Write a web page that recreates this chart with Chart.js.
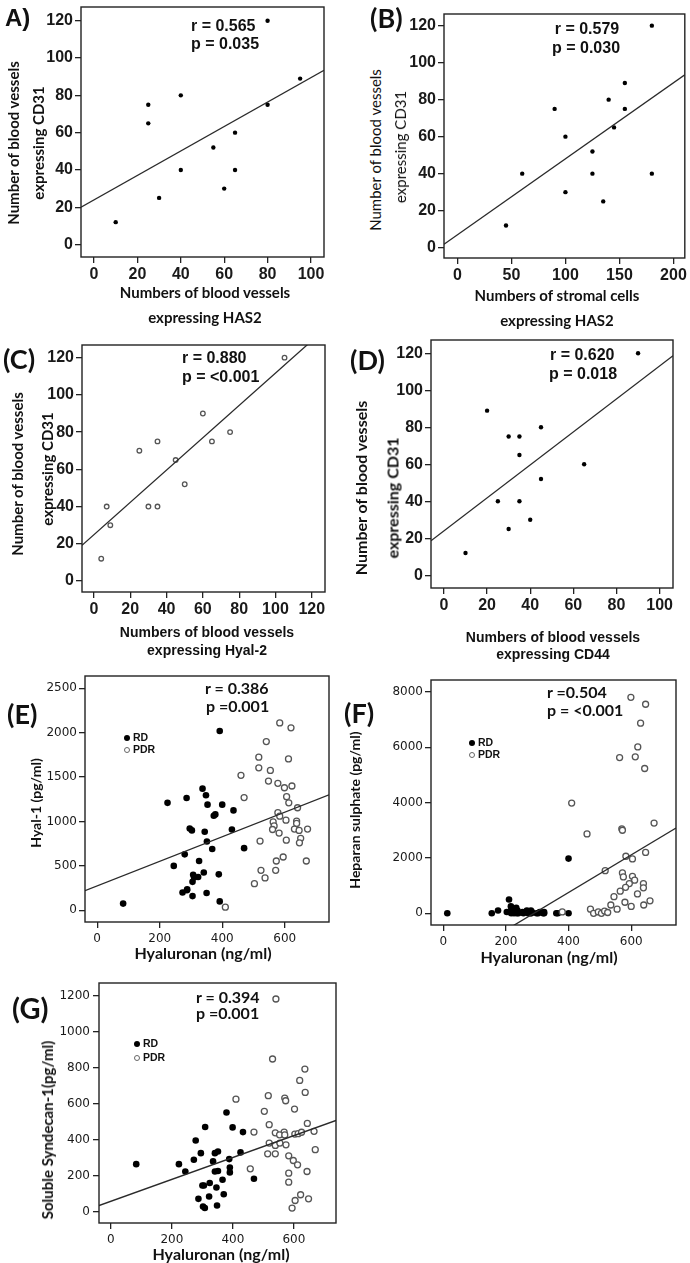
<!DOCTYPE html>
<html>
<head>
<meta charset="utf-8">
<script src="https://cdn.jsdelivr.net/npm/chart.js@4.4.1/dist/chart.umd.min.js"></script>
<style>
body { margin: 0; background: #fff; }
#fig { position: relative; width: 690px; height: 1263px; overflow: hidden; }
canvas { position: absolute; }
.t { position: absolute; white-space: nowrap; line-height: 1; color: #111; }
.dot { display: inline-block; width: 6px; height: 6px; border-radius: 50%; box-sizing: border-box; vertical-align: middle; margin-right: 3px; }
</style>
</head>
<body>
<div id="fig"></div>
<script>
// ---- data ----
// (A) blood vessels HAS2 vs CD31
const has2VesselsA = [10, 25, 25, 30, 40, 40, 55, 60, 65, 65, 80, 80, 95];
const cd31A = [12, 75, 65, 25, 80, 40, 52, 30, 60, 40, 120, 75, 89];
const fitA = [23.9, 0.656]; // intercept, slope

// (B) stromal cells HAS2 vs CD31
const has2StromalB = [45, 60, 90, 100, 100, 125, 125, 135, 140, 145, 155, 155, 180, 180];
const cd31B = [12, 40, 75, 60, 30, 52, 40, 25, 80, 65, 89, 75, 120, 40];
const fitB = [6.9, 0.411];

// (C) Hyal-2 vs CD31
const hyal2C = [4, 7, 9, 25, 30, 35, 35, 45, 50, 60, 65, 75, 105];
const cd31C = [12, 40, 30, 70, 40, 40, 75, 65, 52, 90, 75, 80, 120];
const fitC = [24.9, 0.868];

// (D) CD44 vs CD31
const cd44D = [10, 20, 25, 30, 30, 35, 35, 35, 40, 45, 45, 65, 90];
const cd31D = [12, 89, 40, 75, 25, 75, 65, 40, 30, 80, 52, 60, 120];
const fitD = [24.0, 0.892];

// (E) hyaluronan vs Hyal-1
const haRdE = [392, 225, 286, 337, 348, 353, 400, 436, 373, 378, 296, 303, 344, 431, 351, 368, 470, 280, 245, 326, 341, 389, 307, 310, 323, 305, 288, 83, 273, 287, 305, 350, 392];
const hyal1RdE = [2020, 1210, 1265, 1370, 1295, 1190, 1190, 1125, 1065, 1080, 920, 900, 885, 910, 775, 690, 700, 630, 500, 555, 425, 405, 400, 370, 375, 320, 235, 75, 200, 225, 160, 195, 100];
const haPdrE = [584, 620, 541, 517, 612, 517, 554, 460, 548, 578, 599, 623, 470, 606, 613, 641, 578, 584, 604, 563, 566, 561, 638, 638, 631, 646, 673, 582, 605, 651, 647, 521, 595, 573, 669, 524, 571, 537, 503, 410];
const hyal1PdrE = [2110, 2055, 1900, 1725, 1705, 1605, 1575, 1520, 1455, 1430, 1380, 1400, 1270, 1280, 1210, 1155, 1100, 1060, 1015, 995, 950, 910, 1005, 978, 915, 900, 915, 870, 790, 810, 760, 780, 600, 555, 555, 450, 450, 365, 300, 35];
const fitE = [275, 1.384];

// (F) hyaluronan vs heparan sulphate
const haRdF = [13, 155, 175, 203, 210, 216, 217, 218, 226, 233, 235, 235, 237, 240, 253, 256, 267, 271, 274, 278, 280, 281, 283, 298, 303, 308, 319, 322, 322, 400, 361, 366, 400];
const hsRdF = [0, 0, 100, 50, 500, 250, 0, 150, 0, 200, 50, 0, 100, 0, 50, 0, 100, 0, 50, 0, 100, 0, 50, 0, 0, 50, 0, 0, 50, 1975, 0, 0, 0];
const haPdrF = [599, 646, 630, 621, 563, 613, 643, 410, 673, 459, 570, 572, 517, 583, 604, 646, 572, 575, 604, 611, 594, 582, 639, 639, 380, 470, 480, 495, 505, 515, 525, 535, 545, 555, 565, 580, 600, 620, 640, 660];
const hsPdrF = [7800, 7550, 6865, 6010, 5625, 5650, 5230, 3980, 3260, 2865, 3050, 3000, 1540, 2060, 1965, 2200, 1460, 1315, 1335, 1195, 1075, 940, 1075, 920, 50, 150, 0, 50, 0, 80, 30, 300, 600, 150, 800, 400, 250, 700, 300, 450];
const fitF = [-1964, 6.79];

// (G) hyaluronan vs soluble syndecan-1
const haRdG = [83, 223, 244, 272, 278, 295, 309, 287, 300, 305, 302, 308, 324, 322, 335, 341, 351, 341, 351, 346, 348, 366, 370, 379, 388, 390, 390, 399, 425, 433, 469];
const sdcRdG = [263, 263, 222, 287, 394, 324, 469, 70, 144, 144, 28, 19, 158, 83, 278, 324, 333, 222, 225, 133, 33, 176, 96, 550, 291, 244, 217, 467, 328, 441, 182];
const haPdrG = [541, 530, 636, 619, 637, 410, 516, 570, 573, 602, 503, 519, 644, 469, 539, 568, 553, 570, 603, 614, 625, 666, 519, 539, 554, 514, 539, 574, 670, 583, 598, 612, 457, 583, 643, 583, 622, 648, 604, 594];
const sdcPdrG = [1180, 847, 791, 728, 661, 624, 643, 630, 615, 569, 556, 482, 489, 441, 437, 441, 426, 425, 430, 432, 440, 445, 380, 367, 380, 320, 320, 370, 343, 309, 283, 259, 237, 213, 222, 163, 93, 70, 61, 19];
const fitG = [56.7, 0.608];

// tick labels
const ticks0to100 = [0, 20, 40, 60, 80, 100];
const ticks0to120 = [0, 20, 40, 60, 80, 100, 120];
const ticksStromal = [0, 50, 100, 150, 200];
const ticksHa = [0, 200, 400, 600];
const ticksHyal1 = [0, 500, 1000, 1500, 2000, 2500];
const ticksHs = [0, 2000, 4000, 6000, 8000];
const ticksSdc = [0, 200, 400, 600, 800, 1000, 1200];

const fig = document.getElementById('fig');
const ARI = '"Liberation Sans", Arial, sans-serif';
const CAL = 'Lato, "Noto Sans", sans-serif';
const DJV = '"DejaVu Sans", sans-serif';

// frame around the plot area
const boxPlugin = {
    id: 'box',
    afterDatasetsDraw(c) {
        const { ctx, chartArea: a } = c;
        ctx.save();
        ctx.strokeStyle = '#222';
        ctx.lineWidth = 1.4;
        ctx.strokeRect(a.left, a.top, a.right - a.left, a.bottom - a.top);
        ctx.restore();
    },
};

const filled = (x, y, r) => ({ x, y, r, fill: '#000', stroke: '#000', bw: 0 });
const hollow = (x, y, r) => ({ x, y, r, fill: '#fff', stroke: '#555', bw: 1.3 });

function panel(o) {
    const W = o.box[2] - o.box[0], H = o.box[3] - o.box[1];
    const yw = 60, xh = 40, pt = 12, pr = o.pr ?? 12;
    const cv = document.createElement('canvas');
    cv.width = yw + W + pr;
    cv.height = pt + H + xh;
    cv.style.left = (o.box[0] - yw) + 'px';
    cv.style.top = (o.box[1] - pt) + 'px';
    fig.appendChild(cv);

    const sets = o.series.map(s => ({
        data: s.x.map((v, i) => ({ x: v, y: s.y[i] })),
        pointRadius: s.r,
        backgroundColor: s.fill,
        borderColor: s.stroke,
        borderWidth: s.bw,
    }));
    const [b, m] = o.fit;
    sets.unshift({
        data: [{ x: o.xr[0], y: b + m * o.xr[0] }, { x: o.xr[1], y: b + m * o.xr[1] }],
        showLine: true,
        pointRadius: 0,
        borderColor: '#2a2a2a',
        borderWidth: 1.3,
    });

    const axis = (r, tk, pad, fit) => ({
        type: 'linear',
        min: r[0],
        max: r[1],
        afterBuildTicks: s => { s.ticks = tk.map(v => ({ value: v })); },
        afterFit: fit,
        grid: { drawOnChartArea: false, tickLength: 6, color: '#222', lineWidth: 1.3 },
        border: { display: false },
        ticks: { autoSkip: false, maxRotation: 0, minRotation: 0, padding: pad, color: '#1a1a1a', font: o.font, callback: v => String(v) },
    });

    new Chart(cv, {
        type: 'scatter',
        data: { datasets: sets },
        options: {
            responsive: false,
            animation: false,
            events: [],
            layout: { padding: { left: 0, top: pt, right: pr, bottom: 0 } },
            plugins: { legend: { display: false }, tooltip: { enabled: false } },
            scales: {
                x: axis(o.xr, o.xt, o.xpad, s => { s.height = xh; }),
                y: axis(o.yr, o.yt, o.ypad, s => { s.width = yw; }),
            },
        },
        plugins: [boxPlugin],
    });
}

function txt(s, x, y, font, opt = {}) {
    const d = document.createElement('div');
    d.className = 't';
    d.textContent = s;
    d.style.font = font;
    d.style.left = x + 'px';
    d.style.top = y + 'px';
    let tr = opt.left ? 'translate(0,-50%)' : 'translate(-50%,-50%)';
    if (opt.rot) tr += ' rotate(-90deg)';
    d.style.transform = tr;
    fig.appendChild(d);
}

function legend(x, y1, y2) {
    const row = (label, y, style) => {
        const d = document.createElement('div');
        d.className = 't';
        d.style.font = `bold 10.5px ${ARI}`;
        d.style.left = (x - 3) + 'px';
        d.style.top = y + 'px';
        d.style.transform = 'translate(0,-50%)';
        d.innerHTML = `<span class="dot" style="${style}"></span>${label}`;
        fig.appendChild(d);
    };
    row('RD', y1, 'background:#000');
    row('PDR', y2, 'border:1px solid #666;background:#fff');
}

const bigFont = { family: ARI, size: 16, weight: 'bold' };
const smallFont = { family: DJV, size: 12 };

// A
panel({ box: [81, 7, 324, 257], xr: [-6, 106], yr: [-6.7, 127.4], xt: ticks0to100, yt: ticks0to120,
    font: bigFont, xpad: 2, ypad: 2, fit: fitA, series: [filled(has2VesselsA, cd31A, 2.2)] });
txt('A)', 5, 18, `bold 24px ${ARI}`, { left: true });
txt('r = 0.565', 191, 26, `bold 16px ${ARI}`, { left: true });
txt('p = 0.035', 191, 44, `bold 16px ${ARI}`, { left: true });
txt('Number of blood vessels', 13, 143, `bold 15px ${CAL}`, { rot: true });
txt('expressing CD31', 38, 143, `bold 15px ${CAL}`, { rot: true });
txt('Numbers of blood vessels', 205, 292, `bold 15px ${CAL}`);
txt('expressing HAS2', 205, 317, `bold 15px ${CAL}`);

// B
panel({ box: [444, 14, 686, 258], xr: [-12.4, 210.5], yr: [-5.6, 126.3], xt: ticksStromal, yt: ticks0to120,
    font: bigFont, xpad: 2, ypad: 2, pr: 3, fit: fitB, series: [filled(has2StromalB, cd31B, 2.2)] });
txt('(B)', 370, 17, `bold 27px ${CAL}`, { left: true });
txt('r = 0.579', 587, 29, `bold 16px ${ARI}`);
txt('p = 0.030', 586, 48, `bold 16px ${ARI}`);
txt('Number of blood vessels', 375, 150, `15px ${CAL}`, { rot: true });
txt('expressing CD31', 400, 147, `15px ${CAL}`, { rot: true });
txt('Numbers of stromal cells', 557, 295, `bold 15px ${CAL}`);
txt('expressing HAS2', 557, 320, `bold 15px ${CAL}`);

// C
panel({ box: [82, 345, 325, 592], xr: [-6.6, 127.3], yr: [-5.9, 126.8], xt: ticks0to120, yt: ticks0to120,
    font: bigFont, xpad: 2, ypad: 2, fit: fitC, series: [hollow(hyal2C, cd31C, 2.3)] });
txt('(C)', 3, 358, `bold 27px ${CAL}`, { left: true });
txt('r = 0.880', 182, 358, `bold 16px ${ARI}`, { left: true });
txt('p = <0.001', 182, 377, `bold 16px ${ARI}`, { left: true });
txt('Number of blood vessels', 17, 474, `bold 15px ${CAL}`, { rot: true });
txt('expressing CD31', 47, 469, `bold 15px ${CAL}`, { rot: true });
txt('Numbers of blood vessels', 207, 632, `bold 14px ${ARI}`);
txt('expressing Hyal-2', 207, 650, `bold 14px ${ARI}`);

// D
panel({ box: [431, 340, 673, 588], xr: [-6, 106.2], yr: [-6.9, 127.2], xt: ticks0to100, yt: ticks0to120,
    font: bigFont, xpad: 2, ypad: 2, fit: fitD, series: [filled(cd44D, cd31D, 2.2)] });
txt('(D)', 350, 359, `bold 27px ${CAL}`, { left: true });
txt('r = 0.620', 550, 355, `bold 16px ${ARI}`, { left: true });
txt('p = 0.018', 549, 374, `bold 16px ${ARI}`, { left: true });
txt('Number of blood vessels', 360, 488, `bold 16px ${CAL}`, { rot: true });
txt('expressing CD31', 392, 498, `bold 16px ${CAL}`, { rot: true });
txt('Numbers of blood vessels', 553, 637, `bold 14px ${ARI}`);
txt('expressing CD44', 553, 654, `bold 14px ${ARI}`);

// E
panel({ box: [85, 676, 329, 922], xr: [-39, 741.6], yr: [-132, 2639], xt: ticksHa, yt: ticksHyal1,
    font: smallFont, xpad: 4, ypad: 2, fit: fitE,
    series: [hollow(haPdrE, hyal1PdrE, 3), filled(haRdE, hyal1RdE, 3.3)] });
txt('(E)', 7, 713, `bold 27px ${CAL}`, { left: true });
txt('r = 0.386', 205, 687, `bold 16px ${CAL}`, { left: true });
txt('p =0.001', 206, 705, `bold 16px ${CAL}`, { left: true });
legend(127, 737, 749);
txt('Hyal-1 (pg/ml)', 35, 803, `bold 14px ${CAL}`, { rot: true });
txt('Hyaluronan (ng/ml)', 203, 952, `bold 16px ${CAL}`);

// F
panel({ box: [431, 680, 676, 925], xr: [-39, 743], yr: [-422, 8425], xt: ticksHa, yt: ticksHs,
    font: smallFont, xpad: 4, ypad: 2, fit: fitF,
    series: [hollow(haPdrF, hsPdrF, 3), filled(haRdF, hsRdF, 3.3)] });
txt('(F)', 344, 712, `bold 27px ${CAL}`, { left: true });
txt('r =0.504', 547, 691, `bold 16px ${CAL}`, { left: true });
txt('p = <0.001', 547, 709, `bold 16px ${CAL}`, { left: true });
legend(472, 742, 754);
txt('Heparan sulphate (pg/ml)', 354, 810, `bold 14px ${CAL}`, { rot: true });
txt('Hyaluronan (ng/ml)', 549, 956, `bold 16px ${CAL}`);

// G
panel({ box: [99, 983, 336, 1223], xr: [-39, 738], yr: [-64, 1269], xt: ticksHa, yt: ticksSdc,
    font: smallFont, xpad: 4, ypad: 3, fit: fitG,
    series: [hollow(haPdrG, sdcPdrG, 3), filled(haRdG, sdcRdG, 3.3)] });
txt('(G)', 12, 1007, `bold 29px ${CAL}`, { left: true });
txt('r = 0.394', 196, 996, `bold 16px ${CAL}`, { left: true });
txt('p =0.001', 196, 1012, `bold 16px ${CAL}`, { left: true });
legend(137, 1043, 1057);
txt('Soluble Syndecan-1(pg/ml)', 47, 1130, `bold 15px ${CAL}`, { rot: true });
txt('Hyaluronan (ng/ml)', 221, 1253, `bold 16px ${CAL}`);
</script>
</body>
</html>
